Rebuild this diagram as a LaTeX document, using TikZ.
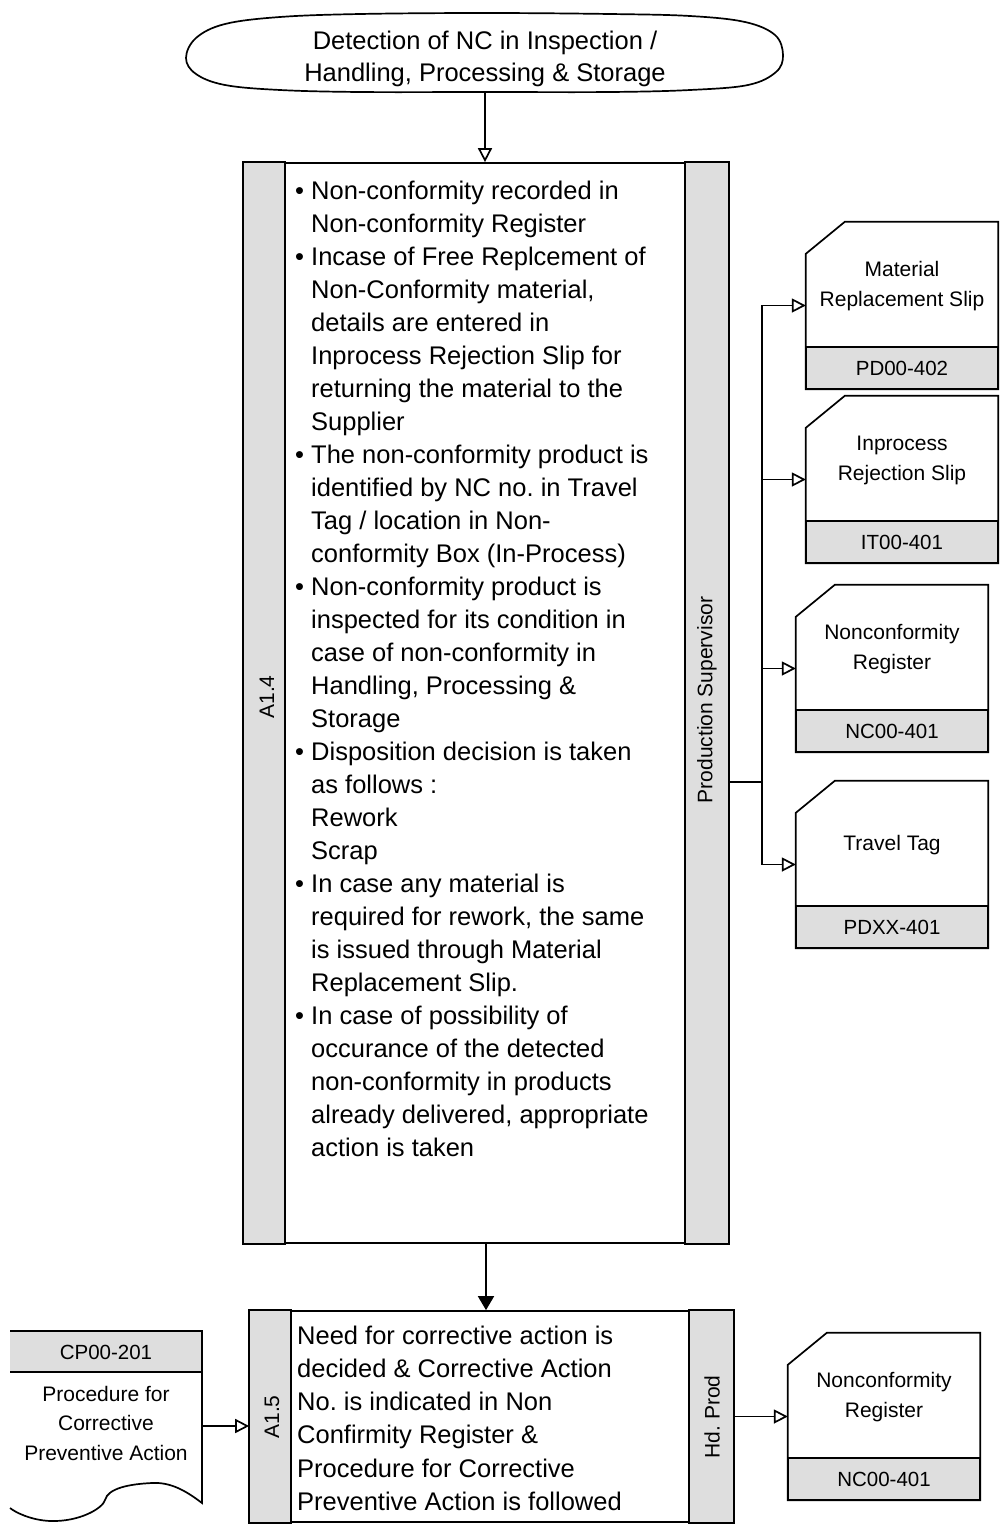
\documentclass[tikz,border=0pt]{standalone}
\usepackage{fontspec}
\setmainfont{Liberation Sans}
\usetikzlibrary{arrows.meta,calc}
\definecolor{lightg}{RGB}{222,222,222}
\frenchspacing
\newcommand{\bul}{\makebox[16pt][l]{\textbullet}}
\newcommand{\ind}{\makebox[16pt]{}}
\newcommand{\fstrut}{\rule{0pt}{30pt}}
\newcommand{\docnode}[5]{%
  \node[docbox] (#1) at ({#2+96},{#3+83.5}) {};
  \draw[lw, fill=white] (#1.south west) -- ($(#1.north west)+(0,32)$) -- ($(#1.north west)+(39,0)$) -- (#1.north east) -- (#1.south east) -- cycle;
  \draw[lw, fill=lightg] (#1.south west) rectangle ($(#1.south east)+(0,-42)$);
  \node[doctext] at ($(#1.north)+(0,64.5)$) {#4};
  \node[codetext] at ($(#1.south)+(0,-21)$) {#5};
}
\begin{document}
\begin{tikzpicture}[x=1pt,y=-1pt,
  lw/.style={line width=1.7pt},
  oarr/.style={-{Triangle[open,length=14pt,width=14pt]}},
  farr/.style={-{Triangle[length=14pt,width=16pt]}},
  docbox/.style={draw=none, minimum width=192, minimum height=167, inner sep=0},
  doctext/.style={align=center, inner sep=0, font=\fontsize{21}{29.5}\selectfont},
  codetext/.style={inner sep=0, font=\fontsize{20.5}{24}\selectfont},
  lbl/.style={rotate=90, inner sep=0, font=\fontsize{21}{24}\selectfont},
  bigtext/.style={inner sep=0, font=\fontsize{25.5}{33}\selectfont}
]
\useasboundingbox (0,0) rectangle (1003,1529);
\fill[white] (0,0) rectangle (1003,1529);

% top terminator
\draw[lw, fill=white] plot[smooth cycle, tension=0.6] coordinates {
 (186,58) (196,38) (225,24) (280,17) (360,14) (485,13) (610,14) (690,16)
 (745,22) (775,35) (783,55) (776,72) (748,85) (690,90) (610,92) (485,92)
 (360,92) (280,90) (225,85) (196,74)};
\node[draw=none, minimum width=597, minimum height=79, inner sep=0] (top) at (485,52.5) {};
\node[bigtext, align=center, anchor=north, font=\fontsize{25.5}{32}\selectfont] (toptxt) at (485,19)
  {\fstrut Detection of NC in Inspection /\\Handling, Processing \& Storage};

% main box A1.4
\node[lw, draw, fill=white, minimum width=484, minimum height=1080, inner sep=0] (a14) at (486,703) {};
\draw[lw, fill=lightg] (a14.north west) rectangle ($(a14.south west)+(42,0)$);
\draw[lw, fill=lightg] (a14.north east) rectangle ($(a14.south east)+(-44,0)$);
\node[lbl] (a14lbl) at (267,697) {A1.4};
\node[lbl] (a14role) at (707,700) {Production Supervisor};
\node[bigtext, align=left, anchor=north west] (a14txt) at (295,169) {%
\fstrut\bul Non-conformity recorded in\\
\ind Non-conformity Register\\
\bul Incase of Free Replcement of\\
\ind Non-Conformity material,\\
\ind details are entered in\\
\ind Inprocess Rejection Slip for\\
\ind returning the material to the\\
\ind Supplier\\
\bul The non-conformity product is\\
\ind identified by NC no. in Travel\\
\ind Tag / location in Non-\\
\ind conformity Box (In-Process)\\
\bul Non-conformity product is\\
\ind inspected for its condition in\\
\ind case of non-conformity in\\
\ind Handling, Processing \&\\
\ind Storage\\
\bul Disposition decision is taken\\
\ind as follows :\\
\ind Rework\\
\ind Scrap\\
\bul In case any material is\\
\ind required for rework, the same\\
\ind is issued through Material\\
\ind Replacement Slip.\\
\bul In case of possibility of\\
\ind occurance of the detected\\
\ind non-conformity in products\\
\ind already delivered, appropriate\\
\ind action is taken};

% bottom box A1.5
\node[lw, draw, fill=white, minimum width=483, minimum height=211, inner sep=0] (a15) at (491.5,1416.5) {};
\draw[lw, fill=lightg] (a15.north west) rectangle ($(a15.south west)+(42,0)$);
\draw[lw, fill=lightg] (a15.north east) rectangle ($(a15.south east)+(-45,0)$);
\node[lbl] (a15lbl) at (272,1417) {A1.5};
\node[lbl] (a15role) at (712,1417) {Hd. Prod};
\node[bigtext, align=left, anchor=north west, font=\fontsize{25.5}{33.2}\selectfont] (a15txt) at (297,1314) {%
\fstrut Need for corrective action is\\
decided \& Corrective Action\\
No. is indicated in Non\\
Confirmity Register \&\\
Procedure for Corrective\\
Preventive Action is followed};

% documents on the right
\docnode{d1}{806}{222}{Material\\Replacement Slip}{PD00-402}
\docnode{d2}{806}{396}{Inprocess\\Rejection Slip}{IT00-401}
\docnode{d3}{796}{585}{Nonconformity\\Register}{NC00-401}
\docnode{d4}{796}{781}{Travel Tag}{PDXX-401}
\docnode{d5}{788}{1333}{Nonconformity\\Register}{NC00-401}

% bottom-left procedure document
\node[draw=none, minimum width=192, minimum height=190, inner sep=0] (cp) at (106,1426) {};
\fill[white] (10,1331) -- (202,1331) -- (202,1503)
  .. controls (185,1490) and (170,1482) .. (152,1483)
  .. controls (130,1484) and (108,1488) .. (105,1500)
  .. controls (103,1508) and (80,1522) .. (50,1521)
  .. controls (30,1520) and (15,1512) .. (10,1508) -- cycle;
\fill[lightg] (10,1331) rectangle (202,1372);
\draw[lw] (10,1331) -- (202,1331) -- (202,1503)
  .. controls (185,1490) and (170,1482) .. (152,1483)
  .. controls (130,1484) and (108,1488) .. (105,1500)
  .. controls (103,1508) and (80,1522) .. (50,1521)
  .. controls (30,1520) and (15,1512) .. (10,1508);
\draw[lw] (10,1372) -- (202,1372);
\node[codetext] (cpcode) at (106,1352) {CP00-201};
\node[doctext] (cptxt) at (106,1423) {Procedure for\\Corrective\\Preventive Action};

% connectors
\draw[lw, oarr] (top.south) -- (top.south |- a14.north);
\draw[lw, farr] (a14.south) -- (a14.south |- a15.north);
\coordinate (j) at (762,782);
\draw[lw] (j -| a14.east) -- (j);
\draw[lw, oarr] (j) |- (d1.west);
\draw[lw, oarr] (j) |- (d2.west);
\draw[lw, oarr] (j) |- (d3.west);
\draw[lw, oarr] (j) |- (d4.west);
\draw[lw, oarr] (cp.east) -- (cp.east -| a15.west);
\draw[lw, oarr] (a15.east |- d5.west) -- (d5.west);
\end{tikzpicture}
\end{document}
